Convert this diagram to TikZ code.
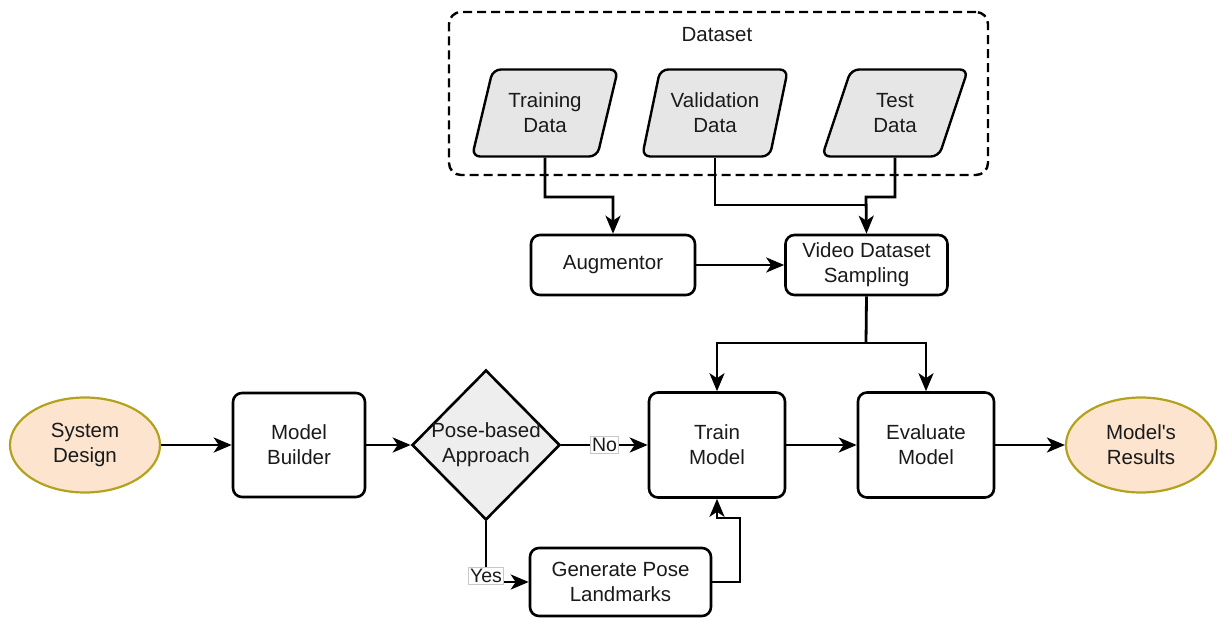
\documentclass[tikz,border=0pt]{standalone}
\usepackage{fontspec}
\setmainfont{Liberation Sans}
\usetikzlibrary{shapes.geometric,arrows.meta}

\definecolor{inkc}{HTML}{1A1A1A}
\definecolor{parafill}{HTML}{E6E6E6}
\definecolor{diafill}{HTML}{EEEEEE}
\definecolor{termfill}{HTML}{FCE4CF}
\definecolor{termline}{HTML}{B3A21C}
\definecolor{tagline}{HTML}{C8C8C8}

\tikzset{
  every node/.style={font=\fontsize{20.5}{25}\selectfont, text=inkc, align=center},
  procbox/.style={draw=black, line width=2.6pt, rounded corners=9pt, fill=white, inner sep=0pt},
  databox/.style={draw=black, line width=2.4pt, rounded corners=8pt, fill=parafill,
    trapezium, trapezium left angle=70, trapezium right angle=110,
    trapezium stretches=true, minimum width=146pt, minimum height=87pt, inner sep=0pt},
  termnode/.style={draw=termline, line width=2.2pt, fill=termfill, ellipse,
    minimum width=150pt, minimum height=95pt, inner sep=0pt},
  decnode/.style={draw=black, line width=2.6pt, fill=diafill, diamond,
    minimum width=148pt, minimum height=150pt, inner sep=0pt},
  flow/.style={line width=2.8pt, -{Stealth[length=18pt,width=15pt,inset=5pt]}},
  plainline/.style={line width=2.8pt},
  tag/.style={draw=tagline, line width=0.7pt, fill=white, inner sep=1.5pt,
    font=\fontsize{19.5}{22}\selectfont}
}

\begin{document}
\begin{tikzpicture}[x=1pt, y=-1pt]
\useasboundingbox (0,0) rectangle (1219,619);

% dataset group
\node[draw=black, line width=2.4pt, dash pattern=on 9pt off 5pt, rounded corners=12pt,
      minimum width=539pt, minimum height=163pt, inner sep=0pt] (dsgroup) at (718.5,93.5) {};
\node (dstitle) at (717,35) {Dataset};

\node[databox] (train) at (545,113) {Training\\Data};
\node[databox] (valid) at (715,113) {Validation\\Data};
\node[databox] (test)  at (895,113) {Test\\Data};

% processing boxes
\node[procbox, minimum width=164pt, minimum height=60pt] (aug) at (613,265) {Augmentor};
\node[procbox, minimum width=162pt, minimum height=60pt] (vds) at (866.5,265) {Video Dataset\\Sampling};

\node[termnode] (sys) at (85,445) {System\\Design};
\node[procbox, minimum width=132pt, minimum height=104pt] (mb) at (299,445) {Model\\Builder};
\node[decnode] (dec) at (486,445) {};
\node (dectext) at (486,445) {Pose-based\\Approach};
\node[procbox, minimum width=136pt, minimum height=105pt] (trm) at (717,445) {Train\\Model};
\node[procbox, minimum width=136pt, minimum height=105pt] (evm) at (926,445) {Evaluate\\Model};
\node[termnode] (res) at (1141,445) {Model\textquotesingle s\\Results};
\node[procbox, minimum width=181pt, minimum height=68pt] (gpl) at (620.5,582) {Generate Pose\\Landmarks};

% dataset feeds
\coordinate (vj) at (866,205);
\draw[flow] (train.south) -- (545,197) -| (aug.north);
\draw[plainline] (valid.south) |- (vj);
\draw[flow] (test.south) |- (866,197) -- (vds.north);
\draw[flow] (aug.east) -- (vds.west);

% sampling to training and evaluation
\coordinate (sj) at (866,343);
\draw[plainline] (vds.south) -- (sj);
\draw[flow] (sj) -| (trm.north);
\draw[flow] (sj) -| (evm.north);

% main row
\draw[flow] (sys.east) -- (mb.west);
\draw[flow] (mb.east) -- (dec.west);
\draw[flow] (dec.east) -- node[tag, pos=0.5] (notag) {No} (trm.west);
\draw[flow] (trm.east) -- (evm.west);
\draw[flow] (evm.east) -- (res.west);

% pose branch
\draw[flow] (dec.south) |- node[tag, pos=0.45] (yestag) {Yes} (gpl.west);
\coordinate (gr) at (740,582);
\coordinate (gt) at (740,518);
\draw[flow] (gpl.east) -- (gr) -- (gt) -| (trm.south);
\end{tikzpicture}
\end{document}
